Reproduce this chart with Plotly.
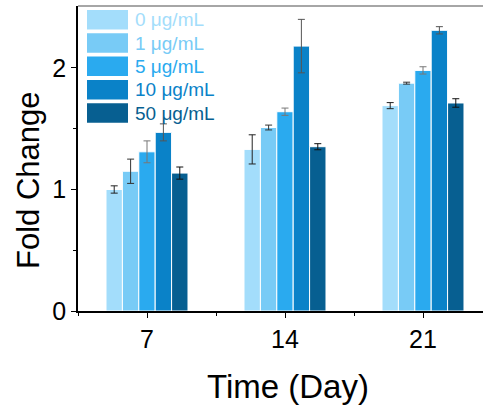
import plotly.graph_objects as go

days = ["7", "14", "21"]
series_names = ["0 μg/mL", "1 μg/mL", "5 μg/mL", "10 μg/mL", "50 μg/mL"]
values = [
    [1.00, 1.33, 1.69],
    [1.15, 1.51, 1.875],
    [1.31, 1.64, 1.98],
    [1.47, 2.18, 2.31],
    [1.135, 1.352, 1.712],
]
errors = [
    [0.03, 0.12, 0.025],
    [0.10, 0.02, 0.008],
    [0.09, 0.03, 0.03],
    [0.07, 0.22, 0.03],
    [0.05, 0.025, 0.035],
]
colors = ["#A3DDFB", "#78CBF6", "#2AAAEF", "#0A82C8", "#075F91"]
err_colors = ["#222222", "#333333", "#777777", "#555555", "#111111"]

W, H = 483, 407
L, R, T, B = 78, 0, 6, 96
pw, ph = W - L - R, H - T - B

fig = go.Figure()
xs = list(range(len(days)))
for i, name in enumerate(series_names):
    fig.add_trace(go.Bar(
        x=xs, y=values[i], name=name,
        marker=dict(color=colors[i], line=dict(color="white", width=1)),
        error_y=dict(type="data", array=errors[i], color=err_colors[i], thickness=1, width=3.5),
        showlegend=False,
    ))

def px2x(px):
    return (px - L) / pw

def py2y(py):
    return (H - B - py) / ph

FONT = "Liberation Sans, Arial"
shapes = []
annotations = []
for i, name in enumerate(series_names):
    top = 10 + i * 23.3
    shapes.append(dict(type="rect", xref="paper", yref="paper",
                       x0=px2x(87), x1=px2x(128), y0=py2y(top + 19.5), y1=py2y(top),
                       fillcolor=colors[i], line=dict(width=0)))
    annotations.append(dict(xref="paper", yref="paper", x=px2x(133), y=py2y(top + 10),
                            text=name, showarrow=False, xanchor="left", yanchor="middle",
                            font=dict(size=19, color=colors[i], family=FONT)))

annotations.append(dict(xref="paper", yref="paper", x=px2x(28), y=py2y(180),
                        text="Fold Change", textangle=-90, showarrow=False,
                        xanchor="center", yanchor="middle",
                        font=dict(size=31, color="black", family=FONT)))
annotations.append(dict(xref="paper", yref="paper", x=px2x(288), y=py2y(386),
                        text="Time (Day)", showarrow=False,
                        xanchor="center", yanchor="middle",
                        font=dict(size=33, color="black", family=FONT)))

shapes.append(dict(type="line", xref="paper", yref="paper", x0=0, x1=1, y0=1, y1=1,
                   line=dict(color="#888888", width=1.5)))

fig.update_layout(
    width=W, height=H,
    margin=dict(l=L, r=R, t=T, b=B, autoexpand=False),
    plot_bgcolor="white", paper_bgcolor="white",
    barmode="group", bargap=0.406, bargroupgap=0,
    font=dict(family=FONT, color="black"),
    shapes=shapes, annotations=annotations,
    xaxis=dict(
        automargin=False,
        range=[-0.5, -0.5 + pw / 138.0],
        tickmode="array", tickvals=xs, ticktext=days,
        ticks="outside", ticklen=5, tickwidth=1, tickcolor="black",
        minor=dict(tick0=0.5, dtick=1, ticks="outside", ticklen=3, tickcolor="black"),
        showline=True, linecolor="black", linewidth=1.5,
        showgrid=False, zeroline=False,
        tickfont=dict(size=25),
    ),
    yaxis=dict(
        automargin=False,
        range=[0, 2.51],
        tickmode="array", tickvals=[0, 1, 2],
        ticks="outside", ticklen=5, tickwidth=1, tickcolor="black",
        minor=dict(tickmode="array", tickvals=[0.5, 1.5], ticks="outside", ticklen=3, tickcolor="black"),
        showline=True, linecolor="black", linewidth=1.5,
        showgrid=False, zeroline=False,
        tickfont=dict(size=25),
    ),
)

fig.write_html("out.html", config={"displayModeBar": False},
               post_script="document.body.style.margin='0px';document.body.style.overflow='hidden';")
